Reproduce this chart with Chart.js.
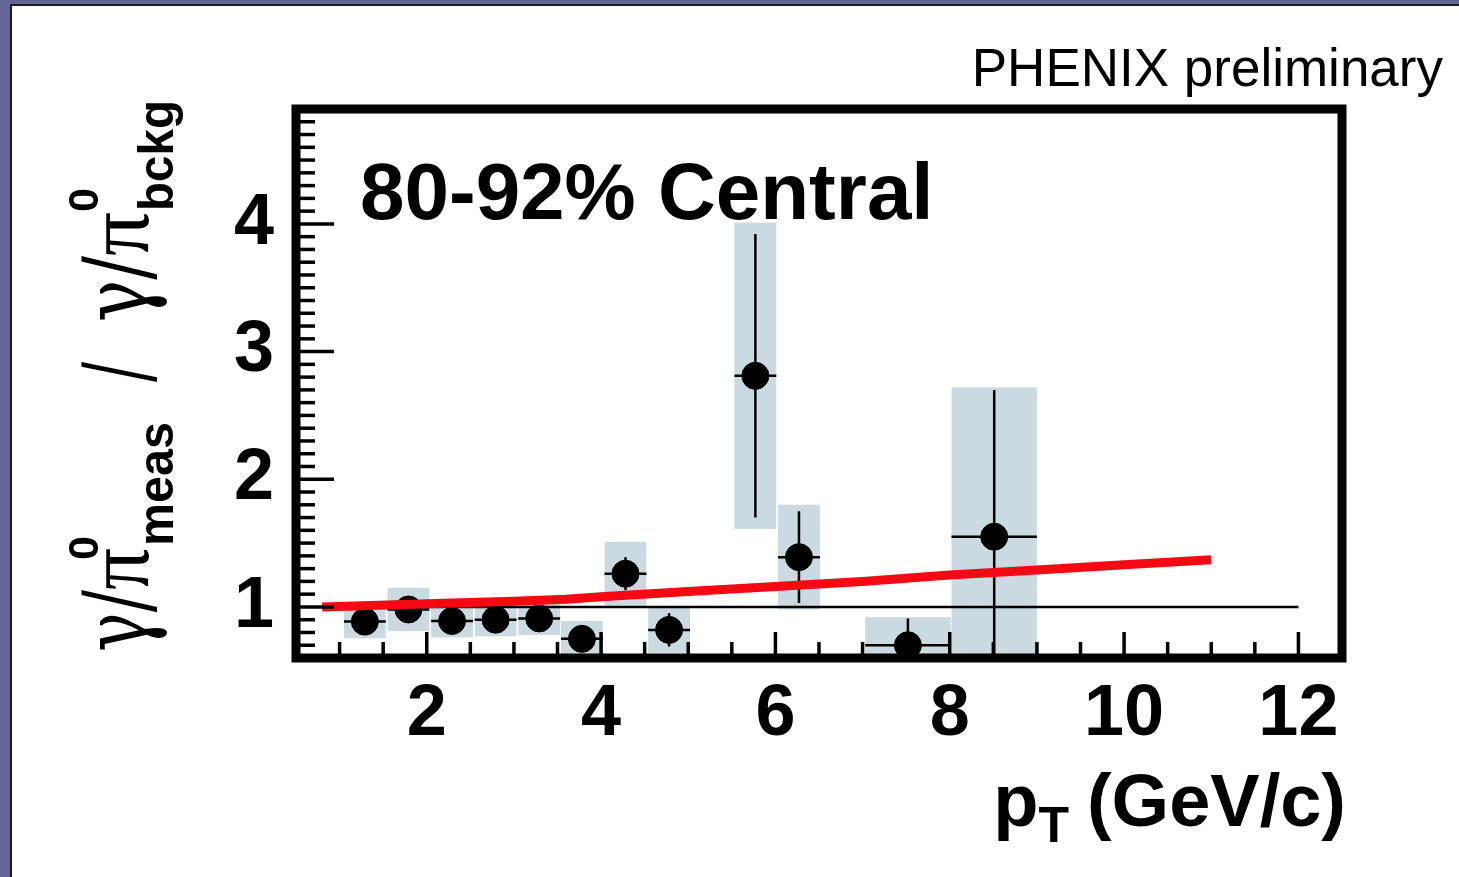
<!DOCTYPE html>
<html>
<head>
<meta charset="utf-8">
<script src="https://cdn.jsdelivr.net/npm/chart.js@4"></script>
<style>
  html, body { margin: 0; padding: 0; }
  body { width: 1459px; height: 877px; background: #646496; position: relative; overflow: hidden; }
  #panel { position: absolute; left: 10px; top: 4px; right: 0; bottom: 0; background: #fff;
           border-left: 2px solid #1a1a2a; border-top: 2px solid #1a1a2a; }
  #c { position: absolute; left: 0; top: 0; }
</style>
</head>
<body>
<div id="panel"></div>
<canvas id="c" width="1459" height="877"></canvas>
<script>
// measured points (pT bin centre, ratio)
const ptX = [1.29, 1.79, 2.29, 2.79, 3.29, 3.78, 4.28, 4.78, 5.77, 6.27, 7.52, 8.51];
const ptY = [0.885, 0.98, 0.89, 0.90, 0.91, 0.75, 1.26, 0.82, 2.81, 1.39, 0.70, 1.55];
const xErr = [0.24, 0.24, 0.24, 0.24, 0.24, 0.24, 0.24, 0.24, 0.24, 0.24, 0.49, 0.49];
const statErr = [0.04, 0.04, 0.04, 0.04, 0.04, 0.04, 0.13, 0.13, 1.11, 0.36, 0.21, 1.15];
const sysErr = [0.13, 0.17, 0.13, 0.13, 0.13, 0.14, 0.25, 0.18, 1.2, 0.41, 0.22, 1.17];

// theory curve
const curveX = [0.8, 2, 3, 3.6, 4, 5, 6, 7, 8, 9, 10, 11];
const curveY = [1.0, 1.025, 1.045, 1.06, 1.08, 1.12, 1.16, 1.20, 1.25, 1.29, 1.33, 1.37];

// reference line at 1
const refX = [0.8, 12];
const refY = [1, 1];

const xTicks = [2, 4, 6, 8, 10, 12];
const yTicks = [1, 2, 3, 4];

const boxColor = "#cbdae1";

// draw text squeezed/stretched so it runs from s0 to s1 along the baseline
function fitText(ctx, txt, font, s0, s1, dy) {
    ctx.font = font;
    const w = ctx.measureText(txt).width;
    ctx.save();
    ctx.translate(s0, dy);
    ctx.scale((s1 - s0) / w, 1);
    ctx.fillText(txt, 0, 0);
    ctx.restore();
}

const extras = {
    id: "extras",
    beforeDatasetsDraw(chart) {
        const ctx = chart.ctx;
        const xs = chart.scales.x;
        const ys = chart.scales.y;
        const a = chart.chartArea;
        ctx.save();
        ctx.beginPath();
        ctx.rect(a.left, a.top, a.right - a.left, a.bottom - a.top);
        ctx.clip();
        // systematic boxes
        ctx.fillStyle = boxColor;
        ptX.forEach((x, i) => {
            const l = xs.getPixelForValue(x - xErr[i]);
            const r = xs.getPixelForValue(x + xErr[i]);
            const t = ys.getPixelForValue(ptY[i] + sysErr[i]);
            const b = ys.getPixelForValue(ptY[i] - sysErr[i]);
            ctx.fillRect(l, t, r - l, b - t);
        });
        // error bars
        ctx.strokeStyle = "#000";
        ctx.lineWidth = 2.5;
        ptX.forEach((x, i) => {
            const px = xs.getPixelForValue(x);
            const py = ys.getPixelForValue(ptY[i]);
            ctx.beginPath();
            ctx.moveTo(px, ys.getPixelForValue(ptY[i] + statErr[i]));
            ctx.lineTo(px, ys.getPixelForValue(ptY[i] - statErr[i]));
            ctx.moveTo(xs.getPixelForValue(x - xErr[i]), py);
            ctx.lineTo(xs.getPixelForValue(x + xErr[i]), py);
            ctx.stroke();
        });
        ctx.restore();
    },
    afterDraw(chart) {
        const ctx = chart.ctx;
        const xs = chart.scales.x;
        const ys = chart.scales.y;
        const a = chart.chartArea;
        ctx.save();
        ctx.strokeStyle = "#000";
        // inward ticks on x axis
        ctx.lineWidth = 3.5;
        for (let v = 1; v <= 12.001; v += 0.5) {
            const px = xs.getPixelForValue(v);
            const len = (Math.abs(v % 2) < 0.01) ? 26 : 16;
            ctx.beginPath();
            ctx.moveTo(px, a.bottom);
            ctx.lineTo(px, a.bottom - len);
            ctx.stroke();
        }
        // inward ticks on y axis
        for (let k = 7; k <= 49; k++) {
            const py = ys.getPixelForValue(k / 10);
            const len = (k % 10 === 0) ? 38 : 19;
            ctx.beginPath();
            ctx.moveTo(a.left, py);
            ctx.lineTo(a.left + len, py);
            ctx.stroke();
        }
        // frame
        ctx.lineWidth = 9;
        ctx.strokeRect(a.left, a.top, a.right - a.left, a.bottom - a.top);

        ctx.fillStyle = "#000";
        ctx.textBaseline = "alphabetic";
        // header
        ctx.font = '53px "Liberation Sans"';
        ctx.textAlign = "right";
        ctx.fillText("PHENIX preliminary", 1443, 86);
        // centrality label
        ctx.font = 'bold 80px "Liberation Sans"';
        ctx.textAlign = "left";
        ctx.fillText("80-92% Central", 360, 219);

        // x title: p_T (GeV/c)
        ctx.textAlign = "right";
        ctx.font = 'bold 74px "Liberation Sans"';
        const rest = "(GeV/c)";
        const wRest = ctx.measureText(rest).width;
        ctx.fillText(rest, 1346, 826);
        ctx.font = 'bold 50px "Liberation Sans"';
        const wT = ctx.measureText("T").width;
        ctx.fillText("T", 1346 - wRest - 18, 842);
        ctx.font = 'bold 74px "Liberation Sans"';
        ctx.fillText("p", 1346 - wRest - 18 - wT, 826);

        // y title, rotated; s measured upward from y = 652
        ctx.translate(148, 652);
        ctx.rotate(-Math.PI / 2);
        ctx.textAlign = "left";
        const gam = '92px "DejaVu Serif"';
        const pi = '92px "Liberation Serif"';
        const sub = 'bold 50px "Liberation Sans"';
        const sup = 'bold 42px "Liberation Sans"';
        fitText(ctx, "γ/", gam, 0, 62, 0);
        fitText(ctx, "π", pi, 62, 104, 0);
        fitText(ctx, "0", sup, 92, 116, -50);
        fitText(ctx, "meas", sub, 106, 230, 25);
        fitText(ctx, "/", gam, 270, 290, 0);
        fitText(ctx, "γ/", gam, 330, 396, 0);
        fitText(ctx, "π", pi, 396, 440, 0);
        fitText(ctx, "0", sup, 440, 464, -50);
        fitText(ctx, "bckg", sub, 441, 552, 25);
        ctx.restore();
    }
};

new Chart(document.getElementById("c"), {
    type: "scatter",
    data: {
        datasets: [
            {
                type: "line",
                data: curveX.map((x, i) => ({ x: x, y: curveY[i] })),
                borderColor: "#f50a14",
                borderWidth: 9,
                pointRadius: 0,
                tension: 0,
                order: 0
            },
            {
                data: ptX.map((x, i) => ({ x: x, y: ptY[i] })),
                backgroundColor: "#000",
                borderColor: "#000",
                pointRadius: 13.5,
                order: 1
            },
            {
                type: "line",
                data: refX.map((x, i) => ({ x: x, y: refY[i] })),
                borderColor: "#000",
                borderWidth: 2.5,
                pointRadius: 0,
                order: 2
            }
        ]
    },
    options: {
        responsive: false,
        animation: false,
        devicePixelRatio: 1,
        layout: { padding: { left: 0, right: 117, top: 109, bottom: 0 } },
        plugins: { legend: { display: false }, tooltip: { enabled: false } },
        scales: {
            x: {
                type: "linear",
                min: 0.5,
                max: 12.5,
                grid: { display: false, drawTicks: false },
                border: { display: false },
                ticks: {
                    color: "#000",
                    font: { family: "Liberation Sans", size: 72, weight: "bold" },
                    padding: 14,
                    autoSkip: false,
                    maxRotation: 0
                },
                afterBuildTicks: s => { s.ticks = xTicks.map(v => ({ value: v })); },
                afterFit: s => { s.height = 877 - 658; }
            },
            y: {
                type: "linear",
                min: 0.6,
                max: 4.9,
                grid: { display: false, drawTicks: false },
                border: { display: false },
                ticks: {
                    color: "#000",
                    font: { family: "Liberation Sans", size: 72, weight: "bold" },
                    padding: 22,
                    autoSkip: false
                },
                afterBuildTicks: s => { s.ticks = yTicks.map(v => ({ value: v })); },
                afterFit: s => { s.width = 296; }
            }
        }
    },
    plugins: [extras]
});
</script>
</body>
</html>
